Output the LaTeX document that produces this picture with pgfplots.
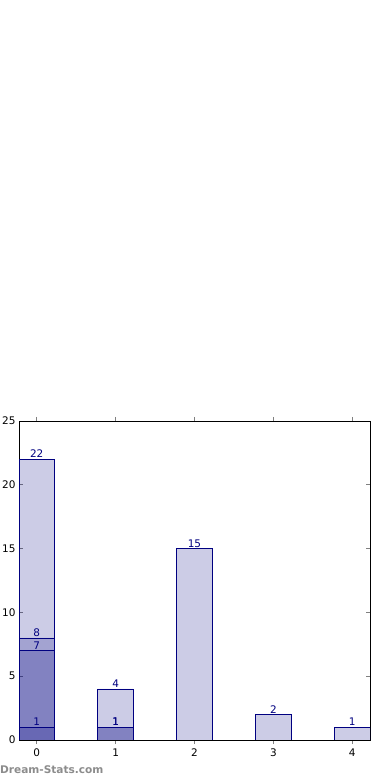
\documentclass[border=0pt]{standalone}
\usepackage{fontspec}
\setmainfont{DejaVu Sans}
\usepackage{pgfplots}
\pgfplotsset{compat=1.18}
\definecolor{barblue}{RGB}{0,0,128}
\definecolor{wmgray}{RGB}{140,140,140}
\tikzset{mybar/.style={fill=barblue, fill opacity=0.2, draw=barblue, draw opacity=1, line width=0.8pt}}
\begin{document}
\begin{tikzpicture}
\path[use as bounding box] (-19bp,-40bp) rectangle (371bp,740bp);
\begin{axis}[
  at={(0,0)}, anchor=south west,
  scale only axis, width=351bp, height=319bp,
  xmin=-0.225, xmax=4.225, ymin=0, ymax=25,
  xtick={0,1,2,3,4}, ytick={0,5,10,15,20,25},
  tick pos=both, tick align=inside,
  major tick length=4bp,
  tick style={gray, line width=0.8pt},
  axis line style={black, line width=0.8pt},
  ticklabel style={font=\fontsize{10.5}{12}\selectfont},
  /pgf/number format/assume math mode=true,
  xticklabel style={yshift=-1bp},
  ybar, bar width=0.45, bar shift=0pt,
  nodes near coords,
  nodes near coords style={text=barblue, text opacity=1, anchor=south, inner sep=0pt, yshift=1bp, font=\fontsize{10.5}{12}\selectfont, /pgf/number format/assume math mode=true},
  clip=true,
]
\addplot[mybar] coordinates {(0,22) (1,4) (2,15) (3,2) (4,1)};
\addplot[mybar] coordinates {(0,8) (1,1)};
\addplot[mybar] coordinates {(0,7) (1,1)};
\addplot[mybar] coordinates {(0,1)};
\end{axis}
\node[anchor=west, inner sep=0pt, text=wmgray, font=\bfseries\fontsize{10.6}{13}\selectfont] at (-19bp,-30bp) {Dream-Stats.com};
\end{tikzpicture}
\end{document}
